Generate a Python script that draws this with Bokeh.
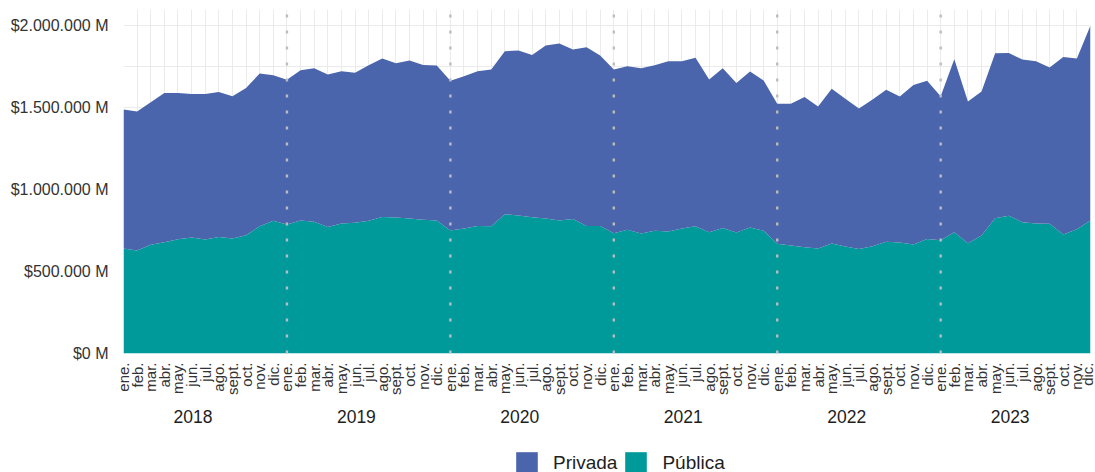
import math
from bokeh.plotting import figure
from bokeh.layouts import column
from bokeh.models import (ColumnDataSource, Range1d, FixedTicker, LinearAxis,
                          Legend, LegendItem, CustomJSTickFormatter)
from bokeh.embed import file_html
from bokeh.resources import INLINE

# ---------------- data (miles de millones de $) ----------------
months = ["ene.", "feb.", "mar.", "abr.", "may.", "jun.", "jul.", "ago.",
          "sept.", "oct.", "nov.", "dic."]
years = ["2018", "2019", "2020", "2021", "2022", "2023"]

publica = [
    640, 628, 663, 679, 697, 707, 695, 711, 701, 721, 776, 809,      # 2018
    787, 811, 803, 772, 793, 797, 809, 833, 829, 823, 815, 811,      # 2019
    750, 762, 778, 776, 850, 841, 831, 823, 811, 821, 778, 778,      # 2020
    734, 754, 732, 748, 744, 762, 776, 740, 766, 738, 768, 748,      # 2021
    669, 659, 648, 640, 671, 652, 638, 654, 681, 677, 665, 699,      # 2022
    691, 740, 673, 720, 825, 840, 801, 793, 791, 726, 758, 811,      # 2023
]
privada = [
    848, 848, 869, 910, 892, 876, 888, 884, 868, 899, 931, 888,      # 2018
    882, 917, 937, 929, 929, 916, 949, 966, 941, 964, 945, 945,      # 2019
    913, 929, 943, 956, 993, 1007, 990, 1055, 1079, 1033, 1090, 1039,  # 2020
    998, 998, 1008, 1010, 1038, 1020, 1027, 931, 974, 912, 952, 917,   # 2021
    854, 864, 917, 866, 943, 901, 856, 895, 927, 890, 973, 964,      # 2022
    878, 1055, 864, 878, 1006, 993, 992, 989, 953, 1083, 1041, 1189,  # 2023
]
y_ticks = [0, 500, 1000, 1500, 2000]
y_tick_labels = ["$0 M", "$500.000 M", "$1.000.000 M", "$1.500.000 M", "$2.000.000 M"]
series_names = ["Privada", "Pública"]

# ---------------- styling ----------------
C_PRIV = "#4A65AC"
C_PUB = "#009A9A"
GRID = "#EBEBEB"
FONT = "Liberation Sans"

n = len(publica)
xs = list(range(n))
month_labels = [months[i % 12] for i in xs]
jan_x = [i for i in xs if i % 12 == 0 and i > 0]
year_pos = [12 * k + 5.1 for k in range(len(years))]

src = ColumnDataSource(dict(x=xs, publica=publica, privada=privada))

Y_END = 2098
p = figure(width=1095, height=435, output_backend="svg", toolbar_location=None,
           x_range=Range1d(0, n - 1), y_range=Range1d(0, Y_END),
           min_border_left=123, min_border_right=5, min_border_top=9,
           min_border_bottom=82)
p.outline_line_color = None
p.background_fill_color = "white"

rs = p.varea_stack(["publica", "privada"], x="x", color=[C_PUB, C_PRIV], source=src)

# year separators
p.segment(x0=jan_x, y0=[0] * len(jan_x), x1=jan_x, y1=[Y_END] * len(jan_x),
          line_color="#BDBDBD", line_width=2.4, line_dash="3 13")

# ----- axes -----
xa = p.xaxis[0]
xa.ticker = FixedTicker(ticks=xs)
xa.major_label_overrides = {i: month_labels[i] for i in xs}
xa.major_label_orientation = math.pi / 2
xa.axis_line_color = None
xa.major_tick_line_color = None
xa.minor_tick_line_color = None
xa.major_label_standoff = 3
xa.major_label_text_font = FONT
xa.major_label_text_font_size = "15px"
xa.major_label_text_color = "#333333"

ya = p.yaxis[0]
ya.ticker = FixedTicker(ticks=y_ticks, minor_ticks=[250, 750, 1250, 1750])
ya.major_label_overrides = {v: l for v, l in zip(y_ticks, y_tick_labels)}
ya.axis_line_color = None
ya.major_tick_line_color = None
ya.minor_tick_line_color = None
ya.major_label_standoff = 9
ya.major_label_text_font = FONT
ya.major_label_text_font_size = "16px"
ya.major_label_text_color = "#333333"

year_axis = LinearAxis(
    ticker=FixedTicker(ticks=year_pos),
    formatter=CustomJSTickFormatter(args=dict(tk=year_pos, labs=years), code="""
        let b = 0;
        for (let j = 0; j < tk.length; j++) {
            if (Math.abs(tk[j] - tick) < Math.abs(tk[b] - tick)) b = j;
        }
        return labs[b];
    """),
    axis_line_color=None, major_tick_line_color=None, minor_tick_line_color=None,
    major_label_standoff=5, major_label_text_font=FONT,
    major_label_text_font_size="17.5px", major_label_text_color="#1E1E1E")
p.add_layout(year_axis, "below")

# ----- grids -----
p.xgrid.grid_line_color = GRID
p.xgrid.grid_line_width = 1
p.ygrid.grid_line_color = GRID
p.ygrid.minor_grid_line_color = GRID
p.ygrid.grid_line_width = 1

# ----- legend (own strip under the chart) -----
leg = figure(width=1095, height=37, output_backend="svg", toolbar_location=None,
             x_range=Range1d(0, 1), y_range=Range1d(0, 1),
             x_axis_location=None, y_axis_location=None,
             min_border_left=0, min_border_right=0, min_border_top=0,
             min_border_bottom=0)
leg.outline_line_color = None
leg.xgrid.visible = False
leg.ygrid.visible = False
r_priv = leg.varea(x=[0, 1], y1=[0, 0], y2=[0, 0], color=C_PRIV)
r_pub = leg.varea(x=[0, 1], y1=[0, 0], y2=[0, 0], color=C_PUB)
legend = Legend(items=[LegendItem(label=series_names[0], renderers=[r_priv]),
                       LegendItem(label=series_names[1], renderers=[r_pub])],
                orientation="horizontal", location=(390, -4),
                glyph_width=27, glyph_height=27, label_standoff=13, spacing=5,
                padding=0, margin=0, border_line_color=None,
                background_fill_alpha=0, label_text_font=FONT,
                label_text_font_size="19px", label_text_color="#1E1E1E")
leg.add_layout(legend, "center")

open("out.html", "w").write(file_html(column(p, leg, spacing=0), INLINE))
